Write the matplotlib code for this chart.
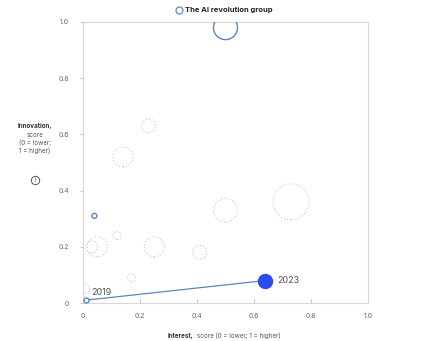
import numpy as np
import matplotlib.pyplot as plt

plt.rcParams['font.family'] = ['Inter', 'DejaVu Sans']

# other groups (dotted gray bubbles)
interest = [0.23, 0.14, 0.50, 0.73, 0.12, 0.05, 0.03, 0.25, 0.41, 0.17, 0.01]
innovation = [0.63, 0.52, 0.33, 0.36, 0.24, 0.20, 0.20, 0.20, 0.18, 0.09, 0.05]
bubble = [7, 10, 12, 18, 4, 10, 6, 10, 7, 4, 4]

# AI revolution group
ai_interest = [0.50, 0.04]
ai_innovation = [0.98, 0.31]
ai_bubble = [12, 2.5]

# trajectory 2019 -> 2023
years = ['2019', '2023']
path_interest = [0.01, 0.64]
path_innovation = [0.01, 0.08]
path_bubble = [2.5, 7]

gray = '#c8c8c8'
blue = '#5b86c0'
dark_blue = '#2a4cf5'


def area(r):
    return (2 * np.array(r) * 0.72) ** 2


fig = plt.figure(figsize=(4.33, 3.41), dpi=100)
ax = fig.add_axes([83 / 433, 38 / 341, 285 / 433, 281 / 341])

ax.scatter(interest, innovation, s=area(bubble), facecolors='none',
           edgecolors=gray, linestyles=':', linewidths=0.8, zorder=2)
ax.scatter(ai_interest, ai_innovation, s=area(ai_bubble), facecolors='none',
           edgecolors=blue, linewidths=1.0, zorder=3)

ax.plot(path_interest, path_innovation, color=blue, lw=0.9, zorder=3)
ax.scatter(path_interest[:1], path_innovation[:1], s=area(path_bubble[:1]),
           facecolors='white', edgecolors=blue, linewidths=1.0, zorder=4)
ax.scatter(path_interest[1:], path_innovation[1:], s=area(path_bubble[1:]),
           color=dark_blue, zorder=4)
ax.text(path_interest[0] + 0.02, path_innovation[0] + 0.028, years[0],
        fontsize=6.5, color='#555555', va='center')
ax.text(path_interest[1] + 0.04, path_innovation[1], years[1],
        fontsize=6.5, color='#555555', va='center')

ax.set_xlim(0, 1)
ax.set_ylim(0, 1)
ticks = [0, 0.2, 0.4, 0.6, 0.8, 1.0]
labels = ['0', '0.2', '0.4', '0.6', '0.8', '1.0']
ax.set_xticks(ticks)
ax.set_xticklabels(labels)
ax.set_yticks(ticks)
ax.set_yticklabels(labels)
ax.tick_params(axis='x', direction='in', length=3, color=gray,
               labelsize=5, labelcolor='#666666', pad=7)
ax.tick_params(axis='y', direction='out', length=2, color=gray,
               labelsize=5, labelcolor='#666666', pad=8)
for s in ax.spines.values():
    s.set_color('#d8d8d8')
    s.set_linewidth(0.8)

# axis titles
fig.text(35 / 433, 1 - 126 / 341, 'Innovation,', fontsize=4.5, fontweight='bold',
         ha='center', va='center', color='#333333')
fig.text(35 / 433, 1 - 143 / 341, 'score\n(0 = lower;\n1 = higher)', fontsize=4.5,
         ha='center', va='center', color='#555555', linespacing=1.3)
# info icon: circle with an i
fig.lines.append(plt.Line2D([35 / 433], [1 - 180 / 341], transform=fig.transFigure,
                            marker='o', markersize=6, markerfacecolor='none',
                            markeredgecolor='#555555', markeredgewidth=0.7, ls=''))
fig.text(35 / 433, 1 - 180 / 341, 'i', fontsize=4.5, ha='center', va='center',
         color='#555555')

t1 = fig.text(168 / 433, 1 - 336 / 341, 'Interest,', fontsize=4.5, fontweight='bold',
              ha='left', va='center', color='#333333')
fig.text(1.0, 0.5, '', transform=fig.transFigure)
ax.annotate('score (0 = lower; 1 = higher)', xy=(1, 0.5), xycoords=t1,
            xytext=(2, 0), textcoords='offset points', fontsize=4.5,
            ha='left', va='center', color='#555555', annotation_clip=False)

# legend
fig.lines.append(plt.Line2D([179 / 433], [1 - 10 / 341], transform=fig.transFigure,
                            marker='o', markersize=5, markerfacecolor='none',
                            markeredgecolor=blue, markeredgewidth=0.9, ls=''))
fig.text(185 / 433, 1 - 10 / 341, 'The AI revolution group', fontsize=5.5,
         fontweight='bold', ha='left', va='center', color='#222222')

fig.savefig('out.png', dpi=100)
